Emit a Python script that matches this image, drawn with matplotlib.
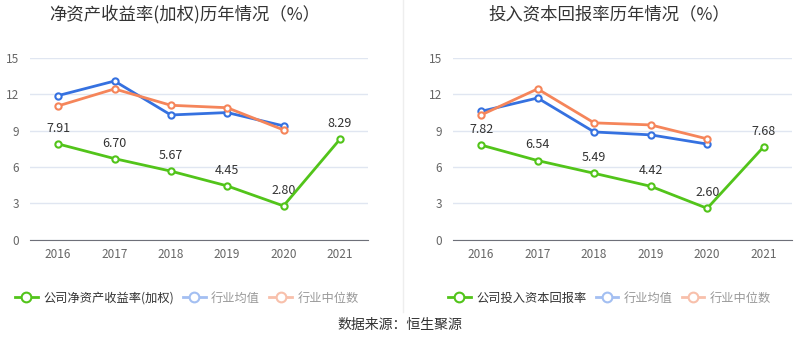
import matplotlib.pyplot as plt
from matplotlib.lines import Line2D

plt.rcParams['font.family'] = ['Noto Sans CJK SC', 'DejaVu Sans']

years = ['2016', '2017', '2018', '2019', '2020', '2021']

roe_company = [7.91, 6.70, 5.67, 4.45, 2.80, 8.29]
roe_avg = [11.9, 13.1, 10.3, 10.5, 9.4]
roe_median = [11.05, 12.45, 11.1, 10.9, 9.07]

roic_company = [7.82, 6.54, 5.49, 4.42, 2.60, 7.68]
roic_avg = [10.6, 11.7, 8.9, 8.66, 7.9]
roic_median = [10.3, 12.45, 9.65, 9.48, 8.33]

titles = ['净资产收益率(加权)历年情况（%）', '投入资本回报率历年情况（%）']
legend_names = ['公司净资产收益率(加权)', '公司投入资本回报率']

green = '#52c41a'
blue = '#3571e0'
orange = '#f5855a'
blue_light = '#a3bff2'
orange_light = '#f8c0ab'

fig = plt.figure(figsize=(8, 3.58), dpi=100)

def draw(ax, comp, avg, med):
    x = list(range(len(years)))
    ax.plot(x[:len(avg)], avg, color=blue, lw=2, marker='o', ms=4.5,
            mfc='white', mec=blue, mew=1.5, zorder=3)
    ax.plot(x[:len(med)], med, color=orange, lw=2, marker='o', ms=4.5,
            mfc='white', mec=orange, mew=1.5, zorder=3)
    ax.plot(x, comp, color=green, lw=2, marker='o', ms=4.5,
            mfc='white', mec=green, mew=1.5, zorder=4)
    for xi, v in zip(x, comp):
        ax.text(xi, v + 0.75, '%.2f' % v, ha='center', va='bottom',
                fontsize=9, color='#333333')
    ax.set_xlim(-0.5, len(years) - 0.5)
    ax.set_ylim(0, 15)
    ax.set_yticks([0, 3, 6, 9, 12, 15])
    ax.set_xticks(x)
    ax.set_xticklabels(years)
    ax.tick_params(axis='both', length=0, labelsize=8.5, colors='#666666')
    ax.tick_params(axis='x', pad=6)
    ax.tick_params(axis='y', pad=8)
    ax.grid(axis='y', color='#e0e6f1', lw=1)
    ax.set_axisbelow(True)
    for s in ['top', 'right', 'left']:
        ax.spines[s].set_visible(False)
    ax.spines['bottom'].set_color('#6e7079')

ax1 = fig.add_axes([0.0375, 0.33, 0.4225, 0.508])
draw(ax1, roe_company, roe_avg, roe_median)
ax2 = fig.add_axes([0.566, 0.33, 0.424, 0.508])
draw(ax2, roic_company, roic_avg, roic_median)

fig.text(185 / 800, 1 - 14 / 358, titles[0], ha='center', va='center',
         fontsize=12.5, color='#333333')
fig.text(609 / 800, 1 - 14 / 358, titles[1], ha='center', va='center',
         fontsize=12.5, color='#333333')

# separator
fig.add_artist(Line2D([0.504, 0.504], [1 - 312 / 358, 1.0], color='#eeeeee', lw=1))

def legend(name, x0):
    handles = [
        Line2D([], [], color=green, lw=2, marker='o', ms=7, mfc='white', mec=green, mew=1.5),
        Line2D([], [], color=blue_light, lw=2, marker='o', ms=7, mfc='white', mec=blue_light, mew=1.5),
        Line2D([], [], color=orange_light, lw=2, marker='o', ms=7, mfc='white', mec=orange_light, mew=1.5),
    ]
    leg = fig.legend(handles, [name, '行业均值', '行业中位数'], loc='center left',
                     bbox_to_anchor=(x0, 1 - 298 / 358), ncol=3, frameon=False,
                     fontsize=8.8, handlelength=1.85, handletextpad=0.45,
                     columnspacing=0.75, borderaxespad=0, borderpad=0)
    leg.get_texts()[0].set_color('#333333')
    leg.get_texts()[1].set_color('#999999')
    leg.get_texts()[2].set_color('#999999')

legend(legend_names[0], 15 / 800)
legend(legend_names[1], 448 / 800)

fig.text(0.5, 1 - 325 / 358, '数据来源：恒生聚源', ha='center', va='center',
         fontsize=10, color='#333333')

fig.savefig('out.png', dpi=100)
